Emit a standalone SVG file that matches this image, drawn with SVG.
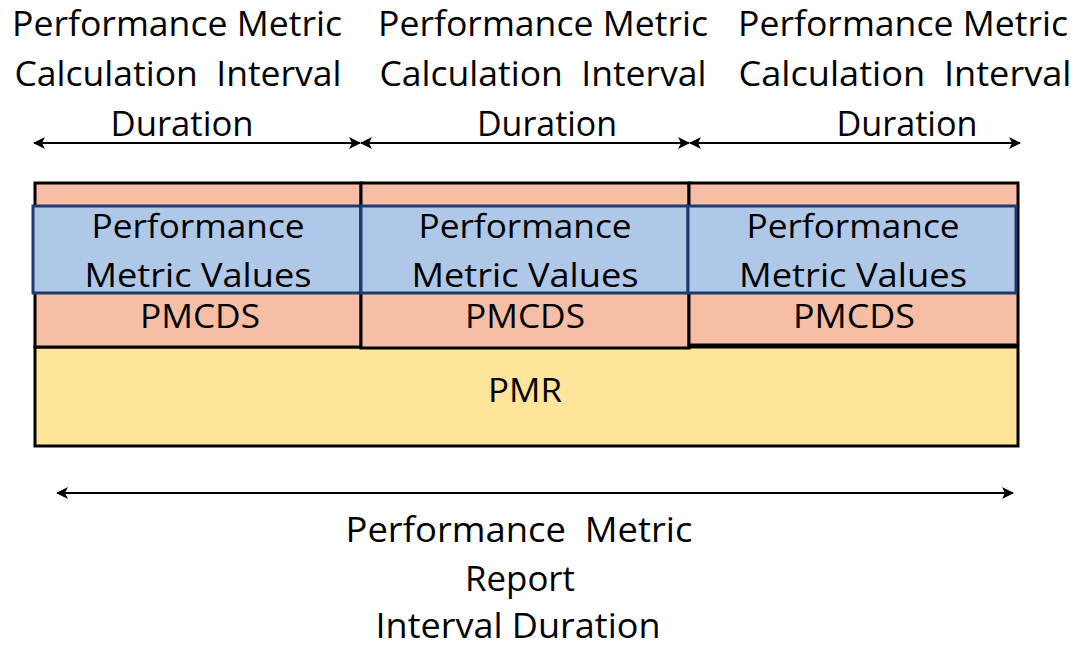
<svg xmlns="http://www.w3.org/2000/svg" width="1084" height="648" viewBox="0 0 1084 648">
<style>
.t{font-family:"Open Sans","Liberation Sans",sans-serif;fill:#000;text-anchor:middle;white-space:pre}
.hd{font-size:35px}
.ft{font-size:34px}
.bx{font-size:33px}
.cell{fill:#f6bea4;stroke:#000;stroke-width:3}
.val{fill:#b0c8e8;stroke:#1f3a6e;stroke-width:3}
.pmr{fill:#ffe599;stroke:#000;stroke-width:3}
.ar{stroke:#000;stroke-width:2;fill:none}
</style>
<defs>
<marker id="ah" viewBox="0 0 12 12" refX="11" refY="6" markerWidth="12" markerHeight="12" markerUnits="userSpaceOnUse" orient="auto-start-reverse">
<path d="M0,0 L12,6 L0,12 L3,6 Z" fill="#000"/>
</marker>
</defs>
<rect width="1084" height="648" fill="#fff"/>
<g id="hdr1">
<text class="t hd" x="177" y="36" textLength="330" lengthAdjust="spacingAndGlyphs">Performance Metric</text>
<text class="t hd" x="178" y="86" textLength="327" lengthAdjust="spacingAndGlyphs">Calculation  Interval</text>
<text class="t hd" x="182" y="136" textLength="143" lengthAdjust="spacingAndGlyphs">Duration</text>
</g>
<g id="hdr2">
<text class="t hd" x="543" y="36" textLength="330" lengthAdjust="spacingAndGlyphs">Performance Metric</text>
<text class="t hd" x="543" y="86" textLength="327" lengthAdjust="spacingAndGlyphs">Calculation  Interval</text>
<text class="t hd" x="547" y="136" textLength="140" lengthAdjust="spacingAndGlyphs">Duration</text>
</g>
<g id="hdr3">
<text class="t hd" x="903" y="36" textLength="330" lengthAdjust="spacingAndGlyphs">Performance Metric</text>
<text class="t hd" x="905" y="86" textLength="333" lengthAdjust="spacingAndGlyphs">Calculation  Interval</text>
<text class="t hd" x="907" y="136" textLength="141" lengthAdjust="spacingAndGlyphs">Duration</text>
</g>
<g id="pmr">
<rect class="pmr" x="35" y="347" width="983" height="99"/>
<text class="t bx" x="525" y="402" textLength="74" lengthAdjust="spacingAndGlyphs">PMR</text>
</g>
<g id="col1">
<rect class="cell" x="35" y="183" width="326" height="164"/>
<rect class="val" x="33" y="206" width="328" height="87"/>
<text class="t bx" x="198" y="238" textLength="213" lengthAdjust="spacingAndGlyphs">Performance</text>
<text class="t bx" x="198" y="287" textLength="227" lengthAdjust="spacingAndGlyphs">Metric Values</text>
<text class="t bx" x="200" y="328" textLength="120" lengthAdjust="spacingAndGlyphs">PMCDS</text>
</g>
<g id="col2">
<rect class="cell" x="361" y="183" width="328" height="165"/>
<rect class="val" x="361" y="206" width="327" height="87"/>
<text class="t bx" x="525" y="238" textLength="213" lengthAdjust="spacingAndGlyphs">Performance</text>
<text class="t bx" x="525" y="287" textLength="227" lengthAdjust="spacingAndGlyphs">Metric Values</text>
<text class="t bx" x="525" y="328" textLength="120" lengthAdjust="spacingAndGlyphs">PMCDS</text>
</g>
<g id="col3">
<rect class="cell" x="689" y="183" width="329" height="162"/>
<rect class="val" x="688" y="206" width="328" height="87"/>
<text class="t bx" x="853" y="238" textLength="213" lengthAdjust="spacingAndGlyphs">Performance</text>
<text class="t bx" x="853" y="287" textLength="228" lengthAdjust="spacingAndGlyphs">Metric Values</text>
<text class="t bx" x="854" y="328" textLength="122" lengthAdjust="spacingAndGlyphs">PMCDS</text>
</g>
<g id="connectors">
<line class="ar" x1="34" y1="143" x2="360" y2="143" marker-start="url(#ah)" marker-end="url(#ah)"/>
<line class="ar" x1="361" y1="143" x2="689" y2="143" marker-start="url(#ah)" marker-end="url(#ah)"/>
<line class="ar" x1="690" y1="143" x2="1020" y2="143" marker-start="url(#ah)" marker-end="url(#ah)"/>
<line class="ar" x1="57" y1="493" x2="1013" y2="493" marker-start="url(#ah)" marker-end="url(#ah)"/>
</g>
<g id="footer">
<text class="t ft" x="519" y="542" textLength="347" lengthAdjust="spacingAndGlyphs">Performance  Metric</text>
<text class="t ft" x="520" y="591" textLength="110" lengthAdjust="spacingAndGlyphs">Report</text>
<text class="t ft" x="518" y="638" textLength="285" lengthAdjust="spacingAndGlyphs">Interval Duration</text>
</g>
</svg>
